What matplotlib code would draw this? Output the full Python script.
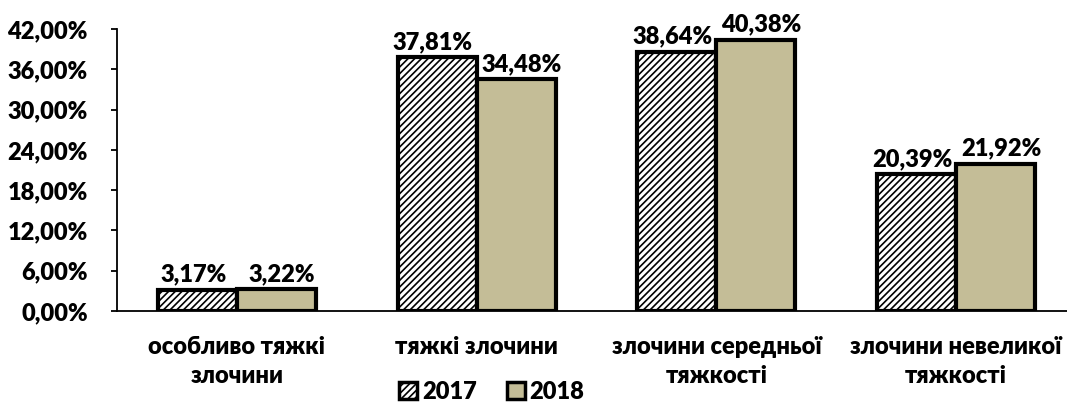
import matplotlib
matplotlib.use("Agg")
import matplotlib.pyplot as plt
import numpy as np
from matplotlib.patches import Patch

categories = ["особливо тяжкі\nзлочини", "тяжкі злочини", "злочини середньої\nтяжкості", "злочини невеликої\nтяжкості"]
v2017 = [3.17, 37.81, 38.64, 20.39]
v2018 = [3.22, 34.48, 40.38, 21.92]
yticks = [0, 6, 12, 18, 24, 30, 36, 42]

plt.rcParams['font.family'] = ['Lato', 'DejaVu Sans']
plt.rcParams['font.weight'] = 'heavy'
plt.rcParams['hatch.linewidth'] = 1.2

FW = 'heavy'
FS = 17
HATCH = '/////'
W, H = 1067, 403
fig = plt.figure(figsize=(W/100, H/100), dpi=100)
left, right, top, bottom = 117, 1067, 29, 311
ax = fig.add_axes([left/W, 1-bottom/H, (right-left)/W, (bottom-top)/H])

x = np.arange(len(categories))
bw = 0.33
b1 = ax.bar(x - bw/2, v2017, bw, color='white', edgecolor='black', linewidth=3, hatch=HATCH, label='2017')
b2 = ax.bar(x + bw/2, v2018, bw, color='#C4BD97', edgecolor='black', linewidth=3, label='2018')

for bars, vals, dx in ((b1, v2017, -3), (b2, v2018, 4)):
    for r, v in zip(bars, vals):
        ax.annotate(f"{v:.2f}%".replace('.', ','), (r.get_x() + r.get_width()/2, v),
                    xytext=(dx, 3), textcoords='offset points',
                    ha='center', va='bottom', fontsize=FS, fontweight=FW)

ax.set_ylim(0, 42)
ax.set_xlim(-0.5, 3.5 - 9/239.5)
ax.set_yticks(yticks)
ax.set_yticklabels([f"{t:.2f}%".replace('.', ',') for t in yticks], fontsize=FS, fontweight=FW)
ax.set_xticks(x)
ax.set_xticklabels(categories, fontsize=FS, fontweight=FW, linespacing=1.4)
ax.tick_params(axis='x', length=0, pad=18)
ax.tick_params(axis='y', direction='out', length=4, width=1.3, pad=17)
for s in ('top', 'right'):
    ax.spines[s].set_visible(False)
ax.spines['left'].set_linewidth(1.3)
ax.spines['bottom'].set_linewidth(1.3)

ax.legend(handles=[Patch(facecolor='white', edgecolor='black', hatch=HATCH, linewidth=2.5, label='2017'),
                   Patch(facecolor='#C4BD97', edgecolor='black', linewidth=2.5, label='2018')],
          loc='center', bbox_to_anchor=(492/W, 1-392/H), bbox_transform=fig.transFigure,
          ncol=2, frameon=False, prop={'size': FS, 'weight': FW},
          handlelength=0.75, handleheight=0.75, handletextpad=0.2, columnspacing=1.3)

fig.savefig("out.png", dpi=100)
